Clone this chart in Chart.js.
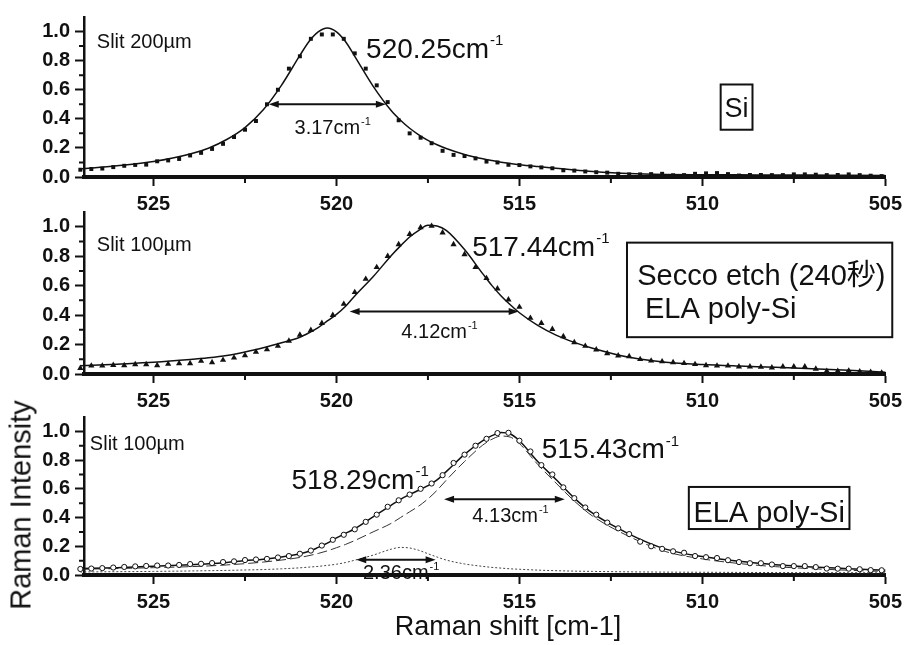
<!DOCTYPE html>
<html lang="ja">
<head>
<meta charset="UTF-8">
<title>Raman spectra of Si and ELA poly-Si</title>
<script src="https://cdn.jsdelivr.net/npm/chart.js"></script>
<style>
  body { margin: 0; background: #fff; }
  #wrap {
    position: relative;
    width: 908px;
    height: 645px;
    overflow: hidden;
    color: #111;
    font-family: 'Liberation Sans', 'Noto Sans CJK JP', sans-serif;
  }
  canvas { position: absolute; left: 0; }
  #c1 { top: 0; }
  #c2 { top: 195px; }
  #c3 { top: 400px; }
  .ytitle {
    position: absolute; left: 21px; top: 505px;
    transform: translate(-50%, -50%) rotate(-90deg);
    font-size: 29px; white-space: nowrap;
  }
  .xtitle {
    position: absolute; left: 508px; top: 626px;
    transform: translate(-50%, -50%);
    font-size: 27px; white-space: nowrap;
  }
</style>
</head>
<body>
<div id="wrap">
  <canvas id="c1" width="908" height="220"></canvas>
  <canvas id="c2" width="908" height="225"></canvas>
  <canvas id="c3" width="908" height="245"></canvas>
  <div class="ytitle">Raman Intensity</div>
  <div class="xtitle">Raman shift [cm-1]</div>
</div>

<script>
  const FONT = "'Liberation Sans', 'Noto Sans CJK JP', sans-serif";
  const INK = '#111';

  // Raman shift of the measured points (cm-1), shared by all three spectra
  const shift = [
    527.0, 526.7, 526.4, 526.1, 525.8, 525.5, 525.2, 524.9, 524.6, 524.3,
    524.0, 523.7, 523.4, 523.1, 522.8, 522.5, 522.2, 521.9, 521.6, 521.3,
    521.0, 520.7, 520.4, 520.1, 519.8, 519.5, 519.2, 518.9, 518.6, 518.3,
    518.0, 517.7, 517.4, 517.1, 516.8, 516.5, 516.2, 515.9, 515.6, 515.3,
    515.0, 514.7, 514.4, 514.1, 513.8, 513.5, 513.2, 512.9, 512.6, 512.3,
    512.0, 511.7, 511.4, 511.1, 510.8, 510.5, 510.2, 509.9, 509.6, 509.3,
    509.0, 508.7, 508.4, 508.1, 507.8, 507.5, 507.2, 506.9, 506.6, 506.3,
    506.0, 505.7, 505.4, 505.1
  ];

  // measured intensities (normalised)
  const siPoints = [
    .050, .055, .058, .068, .077, .083, .085, .108, .114, .124,
    .148, .166, .193, .228, .275, .325, .385, .500, .600, .745,
    .830, .950, .980, .980, .950, .850, .745, .630, .515, .390,
    .300, .270, .232, .180, .152, .144, .128, .106, .100, .084,
    .082, .073, .066, .060, .046, .044, .038, .033, .030, .022,
    .018, .018, .020, .022, .012, .013, .022, .025, .027, .020,
    .010, .014, .014, .013, .013, .018, .018, .016, .013, .014,
    .018, .013, .009, .006
  ];
  const seccoPoints = [
    .040, .056, .056, .060, .058, .065, .065, .058, .068, .072,
    .072, .088, .079, .095, .110, .126, .150, .166, .190, .225,
    .265, .298, .345, .400, .475, .555, .645, .725, .800, .880,
    .950, .995, 1.005, .960, .880, .812, .725, .650, .580, .505,
    .455, .380, .345, .305, .255, .215, .190, .165, .140, .125,
    .120, .100, .090, .085, .079, .073, .066, .058, .056, .056,
    .050, .050, .048, .043, .050, .050, .050, .035, .020, .020,
    .022, .017, .013, .008
  ];
  const elaPoints = [
    .042, .045, .048, .052, .056, .060, .063, .066, .066, .070,
    .076, .078, .083, .090, .095, .104, .108, .112, .122, .132,
    .148, .170, .205, .245, .280, .318, .370, .420, .475, .520,
    .560, .600, .637, .695, .780, .838, .900, .948, .988, .990,
    .935, .860, .765, .700, .610, .535, .470, .420, .365, .325,
    .285, .232, .200, .182, .165, .155, .132, .124, .118, .103,
    .090, .082, .082, .073, .062, .062, .062, .055, .045, .044,
    .044, .040, .034, .033
  ];

  // Raman shift of the fitted curves (cm-1)
  const fitShift = [
    527, 526, 525, 524, 523.5, 523, 522.5, 522, 521.5, 521,
    520.75, 520.5, 520.25, 520, 519.75, 519.5, 519, 518.5, 518.25, 518,
    517.75, 517.5, 517.25, 517, 516.5, 516, 515.75, 515.5, 515.25, 515,
    514.5, 514, 513.5, 513, 512, 511, 510, 509, 508, 507,
    506, 505
  ];
  const siFit = [
    .056, .077, .106, .158, .198, .258, .340, .462, .632, .836,
    .932, .998, 1.025, .998, .930, .830, .625, .455, .390, .335,
    .290, .252, .222, .196, .155, .125, .113, .102, .093, .085,
    .072, .060, .048, .038, .024, .018, .016, .015, .014, .013,
    .012, .011
  ];
  const seccoFit = [
    .056, .067, .079, .098, .110, .126, .150, .178, .212, .250,
    .280, .315, .360, .405, .460, .530, .660, .805, .870, .930,
    .975, 1.010, 1.005, .975, .845, .680, .600, .530, .470, .416,
    .330, .264, .215, .175, .113, .080, .064, .054, .046, .036,
    .026, .012
  ];
  const elaFit = [
    .045, .051, .061, .072, .078, .087, .100, .110, .126, .148,
    .165, .192, .222, .258, .290, .322, .405, .487, .527, .560,
    .590, .622, .662, .720, .840, .935, .970, .992, .982, .935,
    .790, .665, .535, .430, .285, .180, .128, .095, .072, .056,
    .044, .033
  ];
  // the two bands of the poly-Si fit
  const band515 = [
    .040, .045, .051, .058, .063, .070, .079, .090, .104, .122,
    .135, .150, .168, .190, .213, .240, .300, .360, .400, .440,
    .480, .530, .590, .660, .790, .905, .945, .967, .960, .915,
    .770, .640, .515, .410, .268, .163, .112, .080, .058, .044,
    .033, .024
  ];
  const band518 = [
    .021, .023, .025, .028, .030, .032, .035, .038, .043, .050,
    .055, .060, .067, .075, .087, .103, .138, .180, .192, .188,
    .172, .148, .125, .104, .077, .060, .053, .048, .043, .040,
    .034, .030, .027, .025, .022, .020, .019, .018, .017, .016,
    .016, .015
  ];

  const xTicks = { min: 505, max: 526.9, step: 2.5, labelStep: 5 };
  const yTicks = { min: 0, max: 1.1, step: 0.1, labelStep: 0.2, labelMax: 1.0 };

  const isStep = (v, step) => Math.abs(v / step - Math.round(v / step)) < 1e-6;
  const xLabelled = v => isStep(v, xTicks.labelStep);
  const yLabelled = v => isStep(v, yTicks.labelStep) && v <= yTicks.labelMax + 1e-6;

  const toXY = (xs, ys) => xs.map((x, i) => ({ x, y: ys[i] }));

  const pointSet = (ys, style) => Object.assign({
    data: toXY(shift, ys),
    showLine: false,
    pointBackgroundColor: INK,
    pointBorderColor: INK,
    pointBorderWidth: 0,
    clip: false
  }, style);

  const curveSet = (ys, style) => Object.assign({
    data: toXY(fitShift, ys),
    showLine: true,
    pointRadius: 0,
    borderColor: INK,
    borderWidth: 1.5,
    cubicInterpolationMode: 'monotone',
    clip: false
  }, style);

  // shorter ticks for the unlabelled steps
  const minorTicks = {
    id: 'minorTicks',
    afterDraw(chart) {
      const { ctx, chartArea, scales: { x, y } } = chart;
      ctx.save();
      ctx.strokeStyle = INK;
      ctx.lineWidth = 2;
      ctx.beginPath();
      x.ticks.forEach(t => {
        if (xLabelled(t.value)) return;
        const px = x.getPixelForValue(t.value);
        ctx.moveTo(px, chartArea.bottom);
        ctx.lineTo(px, chartArea.bottom + 6);
      });
      y.ticks.forEach(t => {
        if (yLabelled(t.value) || t.value > yTicks.labelMax + 0.05) return;
        const py = y.getPixelForValue(t.value);
        ctx.moveTo(chartArea.left, py);
        ctx.lineTo(chartArea.left - 5, py);
      });
      ctx.stroke();
      ctx.restore();
    }
  };

  // peak labels, FWHM arrows and sample boxes, placed in data units
  const notesPlugin = notes => ({
    id: 'notes',
    afterDatasetsDraw(chart) {
      const { ctx, scales: { x, y } } = chart;
      const font = size => `${size}px ${FONT}`;
      ctx.save();
      ctx.fillStyle = INK;
      ctx.strokeStyle = INK;
      ctx.textBaseline = 'alphabetic';

      const label = (n, px, py) => {
        ctx.font = font(n.size);
        const w = ctx.measureText(n.text).width;
        const left = n.align === 'center' ? px - w / 2 : px;
        ctx.textAlign = 'left';
        ctx.fillText(n.text, left, py);
        if (n.sup) {
          ctx.font = font(Math.round(n.size * 0.55));
          ctx.fillText(n.sup, left + w + 1, py - n.size * 0.44);
        }
      };

      notes.forEach(n => {
        if (n.type === 'text') {
          label(n, x.getPixelForValue(n.x), y.getPixelForValue(n.y));
        } else if (n.type === 'span') {
          const x1 = x.getPixelForValue(n.from);
          const x2 = x.getPixelForValue(n.to);
          const py = y.getPixelForValue(n.y);
          ctx.lineWidth = 2;
          ctx.beginPath();
          ctx.moveTo(x1 + 6, py);
          ctx.lineTo(x2 - 6, py);
          ctx.stroke();
          [[x1, 1], [x2, -1]].forEach(([ax, dir]) => {
            ctx.beginPath();
            ctx.moveTo(ax, py);
            ctx.lineTo(ax + dir * 10, py - 3.5);
            ctx.lineTo(ax + dir * 10, py + 3.5);
            ctx.closePath();
            ctx.fill();
          });
        } else if (n.type === 'box') {
          const x0 = x.getPixelForValue(n.x0);
          const x1 = x.getPixelForValue(n.x1);
          const y0 = y.getPixelForValue(n.y0);
          const y1 = y.getPixelForValue(n.y1);
          ctx.lineWidth = 2;
          ctx.strokeRect(x0, y0, x1 - x0, y1 - y0);
          n.lines.forEach(l => label(Object.assign({ size: n.size }, l),
            x.getPixelForValue(l.x), y.getPixelForValue(l.y)));
        }
      });
      ctx.restore();
    }
  });

  const tickFont = { family: FONT, size: 20, weight: 'bold' };

  const makePanel = (id, box, datasets, notes) => new Chart(document.getElementById(id), {
    type: 'scatter',
    data: { datasets },
    options: {
      responsive: false,
      animation: false,
      events: [],
      layout: { padding: { top: box.top, right: 17, left: 0, bottom: 0 } },
      plugins: { legend: { display: false }, tooltip: { enabled: false } },
      scales: {
        x: {
          type: 'linear',
          reverse: true,
          min: xTicks.min,
          max: xTicks.max,
          afterFit: s => { s.height = box.axisH; },
          afterBuildTicks: s => { s.ticks = s.ticks.filter(t => isStep(t.value, xTicks.step)); },
          ticks: {
            stepSize: xTicks.step,
            includeBounds: false,
            autoSkip: false,
            maxRotation: 0,
            padding: 6,
            color: INK,
            font: tickFont,
            callback: v => xLabelled(v) ? String(Math.round(v)) : ''
          },
          grid: {
            drawOnChartArea: false,
            tickLength: 9,
            tickWidth: 2,
            tickColor: c => xLabelled(c.tick.value) ? INK : 'rgba(0,0,0,0)'
          },
          border: { display: true, width: 4, color: INK }
        },
        y: {
          min: yTicks.min,
          max: yTicks.max,
          afterFit: s => { s.width = 84; },
          ticks: {
            stepSize: yTicks.step,
            autoSkip: false,
            padding: 5,
            color: INK,
            font: tickFont,
            callback: v => yLabelled(v) ? v.toFixed(1) : ''
          },
          grid: {
            drawOnChartArea: false,
            tickLength: 9,
            tickWidth: 2,
            tickColor: c => yLabelled(c.tick.value) ? INK : 'rgba(0,0,0,0)'
          },
          border: { display: true, width: 2.5, color: INK }
        }
      }
    },
    plugins: [minorTicks, notesPlugin(notes)]
  });

  // crystalline Si reference
  makePanel('c1', { top: 11, axisH: 43 }, [
    pointSet(siPoints, { pointStyle: 'rect', pointRadius: 2.8 }),
    curveSet(siFit)
  ], [
    { type: 'text', x: 526.55, y: .887, text: 'Slit 200µm', size: 20 },
    { type: 'text', x: 519.19, y: .821, text: '520.25cm', sup: '-1', size: 28 },
    { type: 'span', from: 521.85, to: 518.65, y: .5 },
    { type: 'text', x: 520.25, y: .298, text: '3.17cm', sup: '-1', size: 20, align: 'center' },
    { type: 'box', x0: 509.5, x1: 508.63, y0: .636, y1: .325, size: 27,
      lines: [{ text: 'Si', x: 509.065, y: .41, align: 'center' }] }
  ]);

  // ELA poly-Si after Secco etching
  makePanel('c2', { top: 16, axisH: 46 }, [
    pointSet(seccoPoints, { pointStyle: 'triangle', pointRadius: 3.6 }),
    curveSet(seccoFit)
  ], [
    { type: 'text', x: 526.55, y: .838, text: 'Slit 100µm', size: 20 },
    { type: 'text', x: 516.29, y: .804, text: '517.44cm', sup: '-1', size: 28 },
    { type: 'span', from: 519.64, to: 515.02, y: .425 },
    { type: 'text', x: 517.33, y: .243, text: '4.12cm', sup: '-1', size: 20, align: 'center' },
    { type: 'box', x0: 512.06, x1: 504.81, y0: .892, y1: .25, size: 29,
      lines: [
        { text: 'Secco etch (240秒)', x: 511.78, y: .601 },
        { text: 'ELA poly-Si', x: 511.57, y: .378 }
      ] }
  ]);

  // as-grown ELA poly-Si with its two-band fit
  makePanel('c3', { top: 10, axisH: 70 }, [
    pointSet(elaPoints, { pointStyle: 'circle', pointRadius: 2.6, pointBackgroundColor: '#fff', pointBorderWidth: 1 }),
    curveSet(elaFit),
    curveSet(band515, { borderWidth: 1, borderColor: '#333', borderDash: [10, 4] }),
    curveSet(band518, { borderWidth: 1, borderColor: '#444', borderDash: [2, 2] })
  ], [
    { type: 'text', x: 526.74, y: .867, text: 'Slit 100µm', size: 20 },
    { type: 'text', x: 521.23, y: .6, text: '518.29cm', sup: '-1', size: 28 },
    { type: 'text', x: 514.39, y: .813, text: '515.43cm', sup: '-1', size: 28 },
    { type: 'span', from: 517.06, to: 513.76, y: .527 },
    { type: 'text', x: 515.39, y: .367, text: '4.13cm', sup: '-1', size: 20, align: 'center' },
    { type: 'span', from: 519.46, to: 517.29, y: .107 },
    { type: 'text', x: 518.38, y: -.027, text: '2.36cm', sup: '-1', size: 20, align: 'center' },
    { type: 'box', x0: 510.37, x1: 505.98, y0: .613, y1: .32, size: 29,
      lines: [{ text: 'ELA poly-Si', x: 508.175, y: .367, align: 'center' }] }
  ]);
</script>
</body>
</html>
